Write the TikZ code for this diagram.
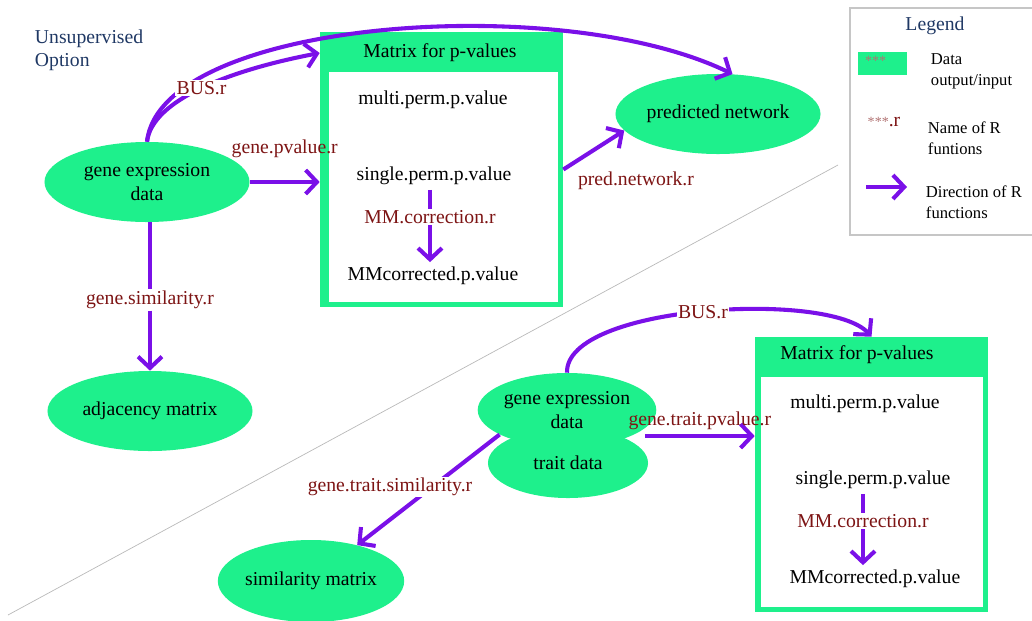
\documentclass[tikz,border=0pt]{standalone}
\usepackage{fontspec}
\setmainfont{Liberation Serif}
\usepackage{xcolor}
\usepackage{tikz}
\usetikzlibrary{shapes,arrows.meta,positioning}
\definecolor{datagreen}{RGB}{30,240,140}
\definecolor{fnviolet}{RGB}{122,16,232}
\definecolor{fnred}{RGB}{125,20,20}
\definecolor{optblue}{RGB}{31,56,100}
\tikzset{data/.style={ellipse,fill=datagreen,minimum width=5.125cm,minimum height=2cm,inner sep=0pt,align=center}}
\tikzset{fnline/.style={line width=2.9pt,color=fnviolet}}
\tikzset{fn/.style={fnline,-{Straight Barb[length=8pt,width=17pt]}}}
\tikzset{fnname/.style={text=fnred,inner sep=1pt}}
\tikzset{fnlabel/.style={fnname,fill=white}}
\tikzset{matframe/.style={rectangle,fill=datagreen,inner sep=0pt}}
\tikzset{matinner/.style={rectangle,fill=white,inner sep=0pt}}
\tikzset{legtext/.style={align=left,font=\fontsize{11.8}{15}\selectfont}}

\begin{document}
\begin{tikzpicture}[x=0.025cm,y=-0.025cm,font=\fontsize{14}{16.5}\selectfont]
    \useasboundingbox (0,0) rectangle (1032,620);
    \draw [gray!55,line width=0.5pt] (8,615) -- (838,165);

    \node[text=optblue,align=left,anchor=north west] (opt) at (30,25) {Unsupervised\\Option};

    % unsupervised part
    \node[data] (gene1) at (147,182) {gene expression\\data};
    \node[data] (pred) at (718,114) {predicted network};
    \node[data] (adj) at (150,411) {adjacency matrix};

    \node[matframe,minimum width=6.075cm,minimum height=6.875cm] (box1) at (441.5,169.5) {};
    \node[matinner,minimum width=5.725cm,minimum height=5.75cm] (in1) at (443.5,187) {};
    \node (hdr1) at (440,53) {Matrix for p-values};
    \node (multi1) at (433,100) {multi.perm.p.value};
    \node (single1) at (434,176) {single.perm.p.value};
    \node[fnlabel] (corr1) at (430,217) {MM.correction.r};
    \node (mmc1) at (433,276) {MMcorrected.p.value};

    \node[fnlabel] (gsim) at (150,300) {gene.similarity.r};
    \node[fnname] (pnet) at (636,181) {pred.network.r};

    \draw [fnline] (single1.south -| corr1) to (corr1);
    \draw [fn] (corr1) to (mmc1.north -| corr1);
    \draw [fn] (gene1.north) .. controls (160,20) and (560,-10) .. (pred.70);
    \draw [fn] (gene1.north) .. controls (152,100) and (230,70) .. node[fnlabel]{BUS.r} (box1.west |- hdr1);
    \draw [fn] (gene1) to node[fnname,midway,above=15pt]{gene.pvalue.r} (gene1 -| box1.west);
    \draw [fnline] (gene1.south -| gsim) to (gsim);
    \draw [fn] (gsim) to (adj);
    \draw [fn] (box1.east) to (pred.190);

    % part with trait data
    \node[data,minimum width=4cm,minimum height=1.75cm] (trait) at (568,463) {trait data};
    \node[data,minimum width=4cm,minimum height=1.85cm] (gene2) at (567,410) {gene expression\\data};
    \node[data,minimum width=4.525cm,minimum height=2.05cm] (sim) at (311,581) {similarity matrix};

    \node[matframe,minimum width=5.825cm,minimum height=6.875cm] (box2) at (871.5,474.5) {};
    \node[matinner,minimum width=5.55cm,minimum height=5.75cm] (in2) at (872,492) {};
    \node (hdr2) at (857,355) {Matrix for p-values};
    \node (multi2) at (865,404) {multi.perm.p.value};
    \node (single2) at (873,480) {single.perm.p.value};
    \node[fnlabel] (corr2) at (863,521) {MM.correction.r};
    \node (mmc2) at (875,579) {MMcorrected.p.value};

    \coordinate (waist) at (645,436);
    \draw [fnline] (single2.south -| corr2) to (corr2);
    \draw [fn] (corr2) to (mmc2.north -| corr2);
    \draw [fn] (gene2.north) .. controls (565,305) and (830,290) .. node[fnlabel]{BUS.r} (box2.north);
    \draw [fn] (waist) to node[fnname,midway,above=2pt]{gene.trait.pvalue.r} (waist -| box2.west);
    \draw [fn] (gene2.200) to (sim);
    \node[fnlabel] (gtsim) at (390,487) {gene.trait.similarity.r};

    % legend
    \draw [gray!45,line width=0.8pt] (850,8) rectangle (1040,235);
    \node[text=optblue] (legtitle) at (935,26) {Legend};
    \node[fill=datagreen,minimum width=1.225cm,minimum height=0.575cm,inner sep=0pt] (swatch) at (882.5,63.5) {};
    \node[text=fnred!60,anchor=west,inner sep=0pt,font=\fontsize{10}{12}\selectfont] (stars) at ([xshift=5pt,yshift=2pt]swatch.west) {***};
    \node[legtext,anchor=west] (ldata) at (926,71) {Data\\output/input};
    \node[text=fnred,inner sep=0pt] (lname) at (884,122) {{\color{fnred!60}\fontsize{10}{12}\selectfont ***}.r};
    \node[legtext,anchor=west] (lnametxt) at (923,138) {Name of R\\funtions};
    \coordinate (larrA) at (866,187);
    \coordinate (larrB) at (907,187);
    \draw [fn] (larrA) to (larrB);
    \node[legtext,anchor=west] (ldir) at (921,202) {Direction of R\\functions};
\end{tikzpicture}
\end{document}
